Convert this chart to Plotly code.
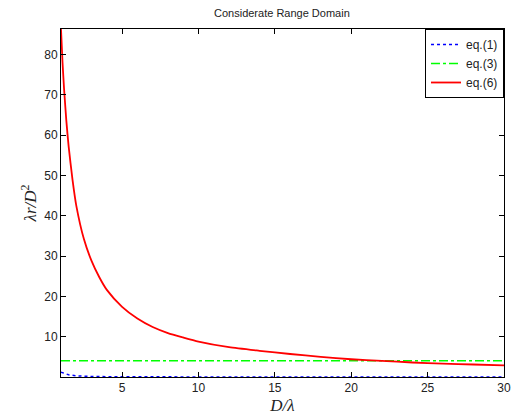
import plotly.graph_objects as go

# Data
x_red = [1.0, 1.1, 1.2, 1.35, 1.5, 1.75, 2.0, 2.5, 3.0, 3.5, 4.0, 5.0, 6.0, 7.0, 8.0, 9.0, 10.0, 12.0, 14.0, 16.0, 18.0, 20.0, 22.0, 24.0, 26.0, 28.0, 30.0]
y_red = [86.3, 78.0, 71.5, 63.5, 57.2, 49.0, 42.5, 34.2, 28.8, 24.8, 21.6, 17.4, 14.5, 12.4, 10.9, 9.8, 8.8, 7.4, 6.5, 5.7, 5.0, 4.4, 4.0, 3.6, 3.3, 3.1, 2.9]
x_blue = [1.0, 1.25, 1.5, 2.0, 2.5, 3.0, 4.0, 5.0, 7.0, 10.0, 15.0, 20.0, 25.0, 30.0]
y_blue = [1.2, 0.8, 0.55, 0.3, 0.19, 0.13, 0.08, 0.05, 0.03, 0.015, 0.007, 0.004, 0.003, 0.002]
x_green = [1.0, 30.0]
y_green = [4.0, 4.0]
x_ticks = [5, 10, 15, 20, 25, 30]
y_ticks = [10, 20, 30, 40, 50, 60, 70, 80]
series_names = ["eq.(1)", "eq.(3)", "eq.(6)"]

fig = go.Figure()
fig.add_trace(go.Scatter(x=x_blue, y=y_blue, mode="lines", name=series_names[0],
                         line=dict(color="#0000ff", width=1.5, dash="dot")))
fig.add_trace(go.Scatter(x=x_green, y=y_green, mode="lines", name=series_names[1],
                         line=dict(color="#00ff00", width=1.5, dash="dashdot")))
fig.add_trace(go.Scatter(x=x_red, y=y_red, mode="lines", name=series_names[2],
                         line=dict(color="#ff0000", width=1.8, shape="spline", smoothing=0.6)))

axis_common = dict(showgrid=False, zeroline=False, showline=True, linecolor="black",
                   linewidth=1, mirror="ticks", ticks="inside", ticklen=5, automargin=False,
                   tickcolor="black", tickfont=dict(family="Liberation Sans, Arial", size=12, color="#222"))

fig.update_layout(
    width=511, height=408,
    margin=dict(l=53, r=15, t=21, b=39, autoexpand=False),
    paper_bgcolor="white", plot_bgcolor="white",
    title=dict(text="Considerate Range Domain", x=0.536, xanchor="center",
               yref="container", y=0.988, yanchor="middle", automargin=False,
               font=dict(family="Liberation Sans, Arial", size=11, color="#222")),
    xaxis=dict(range=[1, 30], tickvals=x_ticks,
               title=dict(text="<i>D/λ</i>", standoff=4,
                          font=dict(family="Liberation Serif, Times New Roman", size=17, color="#222")),
               **axis_common),
    yaxis=dict(range=[0, 86.3], tickvals=y_ticks,
               title=dict(text="<i>λr/D</i><sup>2</sup>", standoff=3,
                          font=dict(family="Liberation Serif, Times New Roman", size=17, color="#222")),
               **axis_common),
    legend=dict(x=1, y=1, xanchor="right", yanchor="top", bgcolor="white",
                bordercolor="black", borderwidth=1, tracegroupgap=0,
                font=dict(family="Liberation Sans, Arial", size=12, color="#222")),
    showlegend=True,
)

fig.write_html("out.html")
